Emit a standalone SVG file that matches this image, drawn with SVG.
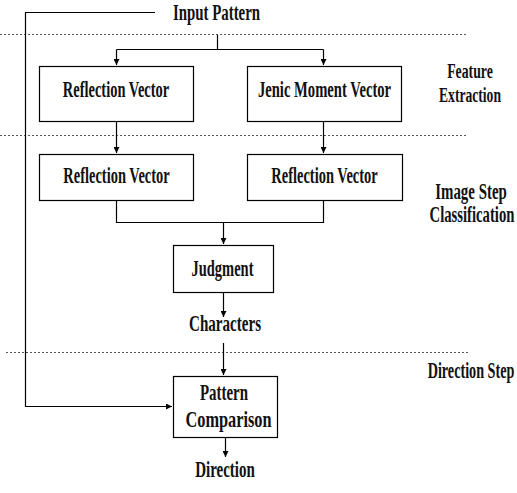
<svg xmlns="http://www.w3.org/2000/svg" width="517" height="493" viewBox="0 0 517 493">
  <style>
    .box { fill: #fff; stroke: #000; stroke-width: 1.2; }
    .lbl { font-family: "Liberation Serif", "Times New Roman", serif; font-weight: bold; font-size: 23px; fill: #111; text-anchor: middle; }
    .sm { font-size: 22px; }
    .wire { fill: none; stroke: #000; stroke-width: 1.2; }
    .sep { fill: none; stroke: #555; stroke-width: 1; stroke-dasharray: 2 2; }
  </style>
  <defs>
    <marker id="arrow" viewBox="0 0 8 8" refX="8" refY="4" markerWidth="6" markerHeight="6" orient="auto" markerUnits="userSpaceOnUse">
      <path d="M0,0 L8,4 L0,8 z" fill="#000"/>
    </marker>
  </defs>
  <rect width="517" height="493" fill="#fff"/>

  <!-- stage separators -->
  <g id="separators">
    <line class="sep" x1="0" y1="34.5" x2="466" y2="34.5"/>
    <line class="sep" x1="0" y1="135.5" x2="466" y2="135.5"/>
    <line class="sep" x1="6" y1="352.5" x2="468" y2="352.5"/>
  </g>

  <!-- stage captions (condensed serif via horizontal scale) -->
  <g id="stage-labels">
    <text class="lbl sm" transform="translate(470,78) scale(0.627,1)">Feature</text>
    <text class="lbl sm" transform="translate(470,102) scale(0.619,1)">Extraction</text>
    <text class="lbl" transform="translate(471,199) scale(0.648,1)">Image Step</text>
    <text class="lbl" transform="translate(472,222) scale(0.639,1)">Classification</text>
    <text class="lbl" transform="translate(471,378) scale(0.616,1)">Direction Step</text>
  </g>

  <g id="connectors">
    <!-- bypass from input to comparison -->
    <path class="wire" d="M155,12.5 H25.5 V406.5 H172" marker-end="url(#arrow)"/>
    <!-- input split -->
    <path class="wire" d="M217.5,35 V49.5"/>
    <path class="wire" d="M116.5,49.5 H323.5"/>
    <path class="wire" d="M116.5,49.5 V65" marker-end="url(#arrow)"/>
    <path class="wire" d="M323.5,49.5 V65" marker-end="url(#arrow)"/>
    <!-- extraction to classification -->
    <path class="wire" d="M116.5,121 V153" marker-end="url(#arrow)"/>
    <path class="wire" d="M323.5,121 V153" marker-end="url(#arrow)"/>
    <!-- merge to judgment -->
    <path class="wire" d="M116.5,200 V222.5 H323.5 V200"/>
    <path class="wire" d="M223.5,222.5 V244" marker-end="url(#arrow)"/>
    <!-- judgment to characters -->
    <path class="wire" d="M223.5,292 V317" marker-end="url(#arrow)"/>
    <!-- characters to comparison -->
    <path class="wire" d="M223.5,343 V375" marker-end="url(#arrow)"/>
    <!-- comparison to direction -->
    <path class="wire" d="M225.5,437 V457" marker-end="url(#arrow)"/>
  </g>

  <g id="input-pattern">
    <text class="lbl" transform="translate(216.5,20) scale(0.646,1)">Input Pattern</text>
  </g>

  <g id="reflection-vector-1">
    <rect class="box" x="39.5" y="66.5" width="154" height="55"/>
    <text class="lbl" transform="translate(116,97) scale(0.629,1)">Reflection Vector</text>
  </g>

  <g id="jenic-moment-vector">
    <rect class="box" x="247.5" y="66.5" width="154" height="55"/>
    <text class="lbl" transform="translate(324.5,97) scale(0.636,1)">Jenic Moment Vector</text>
  </g>

  <g id="reflection-vector-2">
    <rect class="box" x="39.5" y="154.5" width="154" height="46"/>
    <text class="lbl" transform="translate(116.5,183) scale(0.629,1)">Reflection Vector</text>
  </g>

  <g id="reflection-vector-3">
    <rect class="box" x="247.5" y="154.5" width="155" height="46"/>
    <text class="lbl" transform="translate(324.5,183) scale(0.629,1)">Reflection Vector</text>
  </g>

  <g id="judgment">
    <rect class="box" x="173.5" y="245.5" width="100" height="47"/>
    <text class="lbl" transform="translate(222.5,276) scale(0.63,1)">Judgment</text>
  </g>

  <g id="characters">
    <text class="lbl" transform="translate(225,331) scale(0.656,1)">Characters</text>
  </g>

  <g id="pattern-comparison">
    <rect class="box" x="173.5" y="376.5" width="104" height="61"/>
    <text class="lbl" transform="translate(224,400) scale(0.648,1)">Pattern</text>
    <text class="lbl" transform="translate(228.5,427) scale(0.709,1)">Comparison</text>
  </g>

  <g id="direction">
    <text class="lbl" transform="translate(225,477) scale(0.652,1)">Direction</text>
  </g>
</svg>
